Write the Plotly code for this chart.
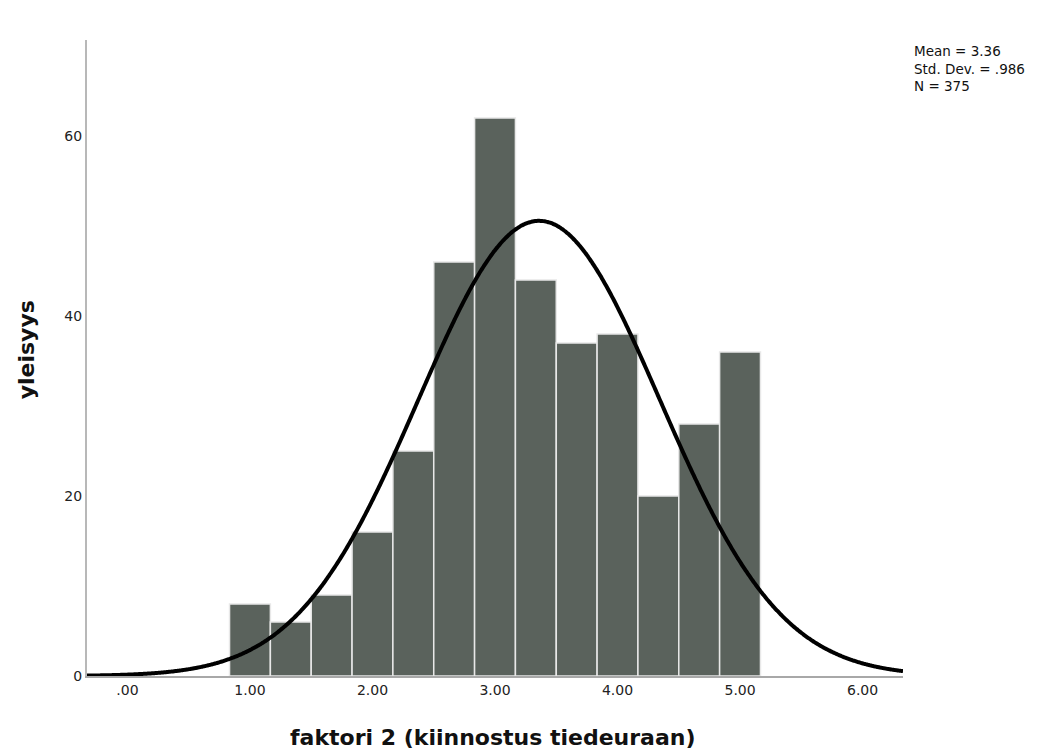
import numpy as np
import plotly.graph_objects as go

bin_centers = [1.0, 1.3333, 1.6667, 2.0, 2.3333, 2.6667, 3.0, 3.3333, 3.6667, 4.0, 4.3333, 4.6667, 5.0]
counts = [8, 6, 9, 16, 25, 46, 62, 44, 37, 38, 20, 28, 36]
bin_width = 1/3
mean, sd, n = 3.36, 0.986, 375
tick_vals_x = [0, 1, 2, 3, 4, 5, 6]
tick_text_x = [".00", "1.00", "2.00", "3.00", "4.00", "5.00", "6.00"]
tick_vals_y = [0, 20, 40, 60]
stats_lines = ["Mean = 3.36", "Std. Dev. = .986", "N = 375"]

xr = [-0.33, 6.33]
xs = np.linspace(xr[0], xr[1], 600)
ys = n * bin_width * np.exp(-0.5 * ((xs - mean) / sd) ** 2) / (sd * np.sqrt(2 * np.pi))

fig = go.Figure()
fig.add_trace(go.Bar(x=bin_centers, y=counts, width=bin_width,
                     marker=dict(color="#5a625c", line=dict(color="#e8e8e8", width=1.5)),
                     hoverinfo="skip"))
fig.add_trace(go.Scatter(x=xs, y=ys, mode="lines",
                         line=dict(color="black", width=4, simplify=False, shape="spline"),
                         hoverinfo="skip"))

annotations = [
    dict(text="<b>faktori 2 (kiinnostus tiedeuraan)</b>", xref="paper", yref="paper", x=0.498, y=-0.096,
         showarrow=False, xanchor="center", yanchor="middle", font=dict(size=22, color="#111")),
    dict(text="<b>yleisyys</b>", xref="paper", yref="paper", x=-0.074, y=0.513, textangle=-90,
         showarrow=False, xanchor="center", yanchor="middle", font=dict(size=22, color="#111")),
    dict(text="<br>".join(stats_lines), xref="paper", yref="paper", x=1.011, y=0.999,
         xanchor="left", yanchor="top", align="left", showarrow=False,
         font=dict(size=13.5, color="#111")),
]

fig.update_layout(
    width=1051, height=749,
    margin=dict(l=87, r=148, t=40, b=73),
    paper_bgcolor="white", plot_bgcolor="white",
    showlegend=False,
    font=dict(family="DejaVu Sans", color="#222"),
    xaxis=dict(range=xr, tickvals=tick_vals_x, ticktext=tick_text_x, showgrid=False, zeroline=False,
               showline=True, linecolor="#a8a8a8", linewidth=2, ticks="", tickfont=dict(size=14)),
    yaxis=dict(range=[0, 70.67], tickvals=tick_vals_y, showgrid=False, zeroline=False,
               showline=True, linecolor="#b8b8b8", linewidth=2, ticks="", tickfont=dict(size=14)),
    annotations=annotations,
)
fig.write_html("out.html")
